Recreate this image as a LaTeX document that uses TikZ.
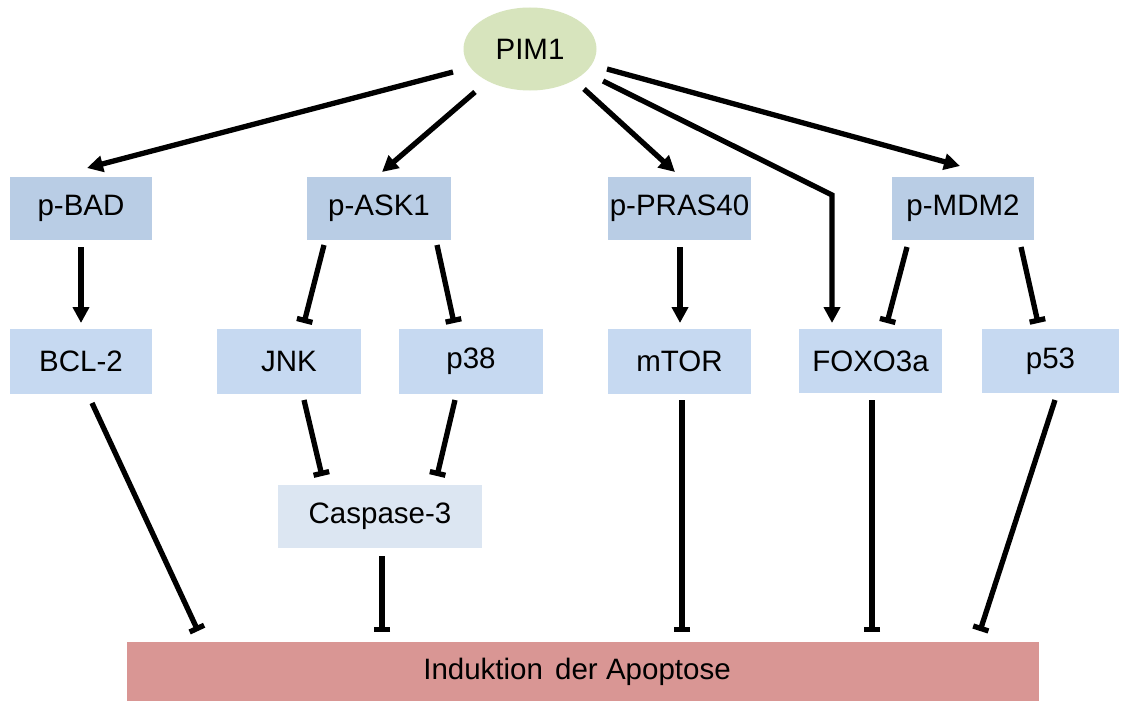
\documentclass[tikz,border=0pt]{standalone}
\usepackage{fontspec}
\setmainfont{Liberation Sans}
\usetikzlibrary{arrows.meta,shapes.geometric}
\definecolor{pimgreen}{HTML}{D7E4BD}
\definecolor{topblue}{HTML}{B9CDE5}
\definecolor{midblue}{HTML}{C6D9F1}
\definecolor{lightblue}{HTML}{DCE6F2}
\definecolor{apored}{HTML}{D99694}
\begin{document}
\begin{tikzpicture}[x=1pt,y=-1pt,
  box/.style={rectangle, inner sep=0pt, font=\fontsize{29.5}{32}\selectfont, text=black},
  topbox/.style={box, fill=topblue, minimum height=63pt},
  midbox/.style={box, fill=midblue, minimum height=65pt},
  act/.style={line width=5.3pt, -{Triangle[length=16pt,width=16pt]}},
  inh/.style={line width=5.3pt, -{Bar[width=16pt]}}
]
\useasboundingbox (0,0) rectangle (1121,701);
\fill[white] (0,0) rectangle (1121,701);

% nodes
\node[ellipse, fill=pimgreen, inner sep=0pt, minimum width=133pt, minimum height=83pt,
      font=\fontsize{29.5}{32}\selectfont] (pim) at (530,49) {PIM1};

\node[topbox, minimum width=142pt] (pbad)  at (81,208.5)   {p-BAD};
\node[topbox, minimum width=144pt] (pask)  at (379,208.5)  {p-ASK1};
\node[topbox, minimum width=143pt] (ppras) at (679.5,208.5){p-PRAS40};
\node[topbox, minimum width=142pt] (pmdm)  at (963,208)    {p-MDM2};

\node[midbox, minimum width=142pt] (bcl)  at (81,361.5)    {BCL-2};
\node[midbox, minimum width=144pt] (jnk)  at (289,361.5)   {JNK};
\node[midbox, minimum width=144pt] (p38)  at (471,361.5)   {p38};
\node[midbox, minimum width=143pt] (mtor) at (679.5,361.5) {mTOR};
\node[midbox, minimum width=143pt, minimum height=64pt] (foxo) at (870.5,361) {FOXO3a};
\node[midbox, minimum width=137pt, minimum height=64pt] (p53)  at (1050.5,361) {p53};

\node[box, fill=lightblue, minimum width=204pt, minimum height=63pt] (casp) at (380,516.5) {Caspase-3};

\node[box, fill=apored, minimum width=912pt, minimum height=59pt] (apo) at (583,671.5)
     {\hspace*{-12pt}Induktion\hspace{4pt} der Apoptose};

\coordinate (bend) at (832,195);

% connectors from PIM1
\draw[act] ([shift={(-77,23)}]pim.center) -- ([shift={(6,-40.5)}]pbad.center);
\draw[act] ([shift={(-55,43)}]pim.center) -- ([shift={(3,-36.5)}]pask.center);
\draw[act] ([shift={(54,40)}]pim.center) -- ([shift={(-4.5,-36.5)}]ppras.center);
\draw[act, line join=miter] ([shift={(73,32)}]pim.center) -- (bend) -- ([shift={(-38.5,-38)}]foxo.center);
\draw[act] ([shift={(77,20)}]pim.center) -- ([shift={(-3,-42)}]pmdm.center);

% second level
\draw[act] ([shift={(0,38.5)}]pbad.center) -- ([shift={(0,-38.5)}]bcl.center);
\draw[inh] ([shift={(-55,36.5)}]pask.center) -- ([shift={(15,-38.5)}]jnk.center);
\draw[inh] ([shift={(58,36.5)}]pask.center) -- ([shift={(-17,-38.5)}]p38.center);
\draw[act] ([shift={(0.5,38.5)}]ppras.center) -- ([shift={(0.5,-38.5)}]mtor.center);
\draw[inh] ([shift={(-56,39)}]pmdm.center) -- ([shift={(16.5,-38)}]foxo.center);
\draw[inh] ([shift={(58,39)}]pmdm.center) -- ([shift={(-12.5,-38)}]p53.center);

% to caspase
\draw[inh] ([shift={(15,38.5)}]jnk.center) -- ([shift={(-58,-40.5)}]casp.center);
\draw[inh] ([shift={(-16,38.5)}]p38.center) -- ([shift={(57,-40.5)}]casp.center);

% to apoptosis
\draw[inh] ([shift={(11,41.5)}]bcl.center) -- ([shift={(-385,-40.5)}]apo.center);
\draw[inh] ([shift={(2,39.5)}]casp.center) -- ([shift={(-201,-39.5)}]apo.center);
\draw[inh] ([shift={(2.5,38.5)}]mtor.center) -- ([shift={(99,-39.5)}]apo.center);
\draw[inh] ([shift={(1.5,39)}]foxo.center) -- ([shift={(289,-39.5)}]apo.center);
\draw[inh] ([shift={(4.5,39)}]p53.center) -- ([shift={(397,-40.5)}]apo.center);
\end{tikzpicture}
\end{document}
